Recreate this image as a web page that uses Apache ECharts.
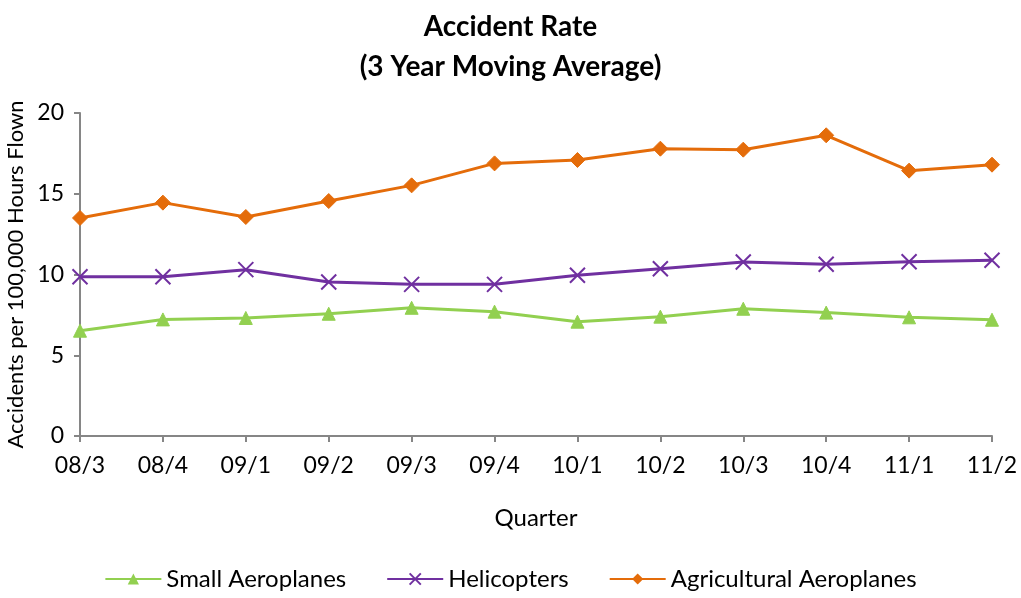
<!DOCTYPE html>
<html>
<head>
<meta charset="utf-8">
<script src="https://cdn.jsdelivr.net/npm/echarts@6/dist/echarts.min.js"></script>
<style>
  html, body { margin: 0; padding: 0; background: #fff; }
  #chart { width: 1021px; height: 598px; }
</style>
</head>
<body>
<div id="chart"></div>
<script>
// quarters on the x axis
let quarters = ['08/3', '08/4', '09/1', '09/2', '09/3', '09/4', '10/1', '10/2', '10/3', '10/4', '11/1', '11/2']
let smallPlanes = [6.52, 7.22, 7.31, 7.57, 7.94, 7.7, 7.08, 7.39, 7.88, 7.64, 7.35, 7.2]
let helicopters = [9.86, 9.86, 10.3, 9.54, 9.39, 9.39, 9.95, 10.36, 10.77, 10.63, 10.79, 10.88]
let agricultural = [13.5, 14.45, 13.56, 14.55, 15.52, 16.88, 17.09, 17.79, 17.73, 18.62, 16.43, 16.8]

var myChart = echarts.init(document.getElementById('chart'))
let font = 'Lato, "Open Sans", sans-serif'
let axisColor = '#868686'

function makeSeries(name, data, color, symbol, size) {
  return {
    name: name,
    type: 'line',
    data: data,
    symbol: symbol,
    symbolSize: size,
    lineStyle: { color: color, width: 3 },
    itemStyle: { color: color, borderColor: color },
    emphasis: { disabled: true }
  }
}

// purple cross marker
let crossPath = 'path://M0,0 L10,10 M10,0 L0,10'

let option = {
  animation: false,
  title: {
    text: 'Accident Rate\n(3 Year Moving Average)',
    left: 'center',
    top: 2,
    textStyle: { fontFamily: font, fontSize: 28, fontWeight: 'bold', color: '#000', lineHeight: 40 }
  },
  legend: {
    bottom: 2,
    left: 'center',
    itemGap: 40,
    itemWidth: 56,
    itemHeight: 14,
    textStyle: { fontFamily: font, fontSize: 24, color: '#000' },
    data: ['Small Aeroplanes', 'Helicopters', 'Agricultural Aeroplanes']
  },
  grid: { left: 80, right: 29, top: 113, bottom: 162, containLabel: false, outerBoundsMode: 'none' },
  xAxis: {
    type: 'category',
    data: quarters,
    boundaryGap: false,
    name: 'Quarter',
    nameLocation: 'middle',
    nameGap: 70,
    nameTextStyle: { fontFamily: font, fontSize: 24, color: '#000' },
    axisLine: { lineStyle: { color: axisColor, width: 2 } },
    axisTick: { show: true, length: 6, alignWithLabel: true, lineStyle: { color: axisColor, width: 2 } },
    axisLabel: { fontFamily: font, fontSize: 23, color: '#000', margin: 18, interval: 0 },
    splitLine: { show: false }
  },
  yAxis: {
    type: 'value',
    min: 0,
    max: 20,
    interval: 5,
    name: 'Accidents per 100,000 Hours Flown',
    nameLocation: 'middle',
    nameGap: 50,
    nameTextStyle: { fontFamily: font, fontSize: 22, color: '#000' },
    axisLine: { show: true, lineStyle: { color: axisColor, width: 2 } },
    axisTick: { show: true, length: 6, lineStyle: { color: axisColor, width: 2 } },
    axisLabel: { fontFamily: font, fontSize: 23, color: '#000', margin: 16 },
    splitLine: { show: false }
  },
  series: [
    makeSeries('Small Aeroplanes', smallPlanes, '#92D050', 'triangle', 13),
    Object.assign(makeSeries('Helicopters', helicopters, '#7030A0', crossPath, 15), {
      itemStyle: { color: 'none', borderColor: '#7030A0', borderWidth: 2 }
    }),
    makeSeries('Agricultural Aeroplanes', agricultural, '#E46C0A', 'diamond', 15)
  ]
}

myChart.setOption(option)
</script>
</body>
</html>
